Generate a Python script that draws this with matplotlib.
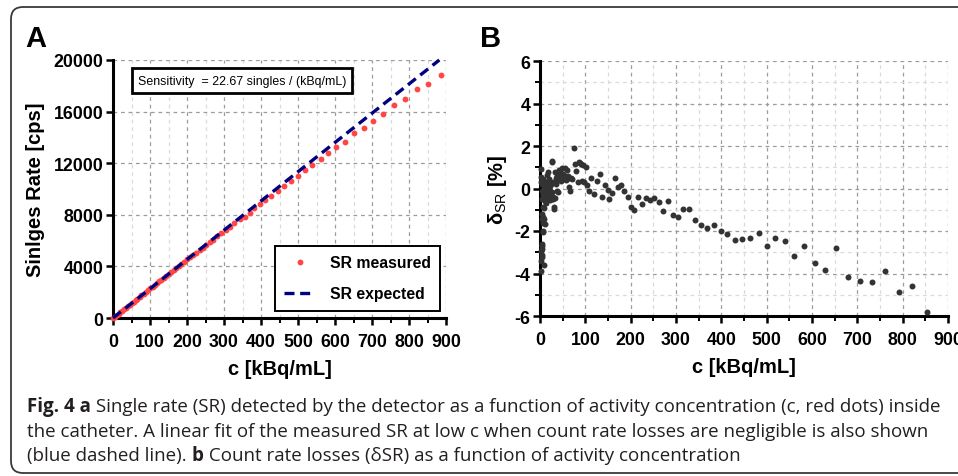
import numpy as np
import matplotlib
matplotlib.use("Agg")
import matplotlib.pyplot as plt
import matplotlib.font_manager as fm
from matplotlib.ticker import MultipleLocator
from matplotlib.patches import FancyBboxPatch
from matplotlib.transforms import IdentityTransform

# ---------------- data ----------------
# Panel A: singles rate measured vs. activity concentration
c_measured = [0, 5, 10, 15, 20, 25, 30, 35, 40, 45, 50, 56, 61, 66, 72, 77, 83, 89, 95,
              101, 107, 113, 119, 125, 131, 138, 144, 150, 157, 164, 171, 178, 185, 193,
              201, 208, 216, 224, 234, 242, 251, 261, 271, 282, 293, 305, 316, 328, 342,
              356, 369, 382, 398, 412, 428, 446, 463, 481, 500, 519, 539, 561, 582, 604,
              627, 652, 678, 703, 731, 760, 789, 821, 852, 886]
sr_measured = [0, 113, 227, 340, 455, 568, 682, 795, 908, 1022, 1136, 1272, 1385, 1499,
               1635, 1750, 1888, 2024, 2160, 2294, 2428, 2562, 2697, 2832, 2970, 3128,
               3264, 3398, 3555, 3712, 3878, 4040, 4192, 4372, 4538, 4694, 4878, 5060,
               5280, 5460, 5660, 5880, 6080, 6330, 6560, 6820, 7090, 7360, 7640, 7835,
               8170, 8505, 8840, 9124, 9459, 9820, 10232, 10619, 11005, 11469, 11881,
               12294, 12809, 13222, 13660, 14356, 14691, 15258, 15825, 16521, 17010,
               17732, 18170, 18814]
# expected (linear fit, 22.67 singles per kBq/mL)
c_expected = [0, 882]
sr_expected = [0, 20000]

# Panel B: count rate losses (%)
c_loss = [2.2, 3.0, 3.4, 3.0, 3.7, 4.2, 4.8, 5.1, 9.5, 6.5, 7.3, 6.2, 5.5, 4.4, 7.7, 10.3,
          9.2, 8.1, 5.9, 4.0, 3.5, 3.0, 2.6, 2.2, 5.0, 6.6, 7.0, 8.4, 8.8, 10.0, 11.0,
          11.8, 12.5, 13.2, 14.0, 14.7, 15.4, 16.2, 17.0, 17.6, 18.4, 19.1, 19.8, 20.6,
          21.3, 22.0, 22.8, 23.5, 24.2, 25.0, 25.7, 27.2, 26.4, 28.0, 28.7, 29.4, 30.2,
          30.9, 32.0, 33.1, 34.2, 35.3, 36.7, 37.8, 39.0, 40.4, 41.5, 42.8, 44.1, 45.5,
          46.8, 48.5, 49.8, 51.4, 52.8, 54.2, 55.8, 57.2, 58.7, 60.2, 61.8, 63.9, 66.1,
          68.0, 69.8, 74.2, 76.4, 79.3, 83.0, 85.2, 87.5, 89.6, 91.8, 95.5, 97.5, 100.7,
          102.9, 108.7, 112.4, 119.0, 125.6, 131.5, 135.9, 143.3, 149.1, 152.8, 159.4,
          165.3, 171.9, 178.5, 184.4, 193.2, 201.3, 207.2, 216.0, 224.8, 234.4, 242.5,
          251.3, 261.6, 271.8, 282.1, 293.2, 304.9, 315.9, 328.4, 342.4, 354.8, 368.8,
          382.8, 398.9, 412.9, 429.8, 445.9, 464.3, 482.0, 501.1, 519.4, 540.0, 560.6,
          583.3, 606.1, 628.9, 653.9, 678.9, 705.3, 733.2, 761.1, 791.3, 821.4, 853.7]
delta_sr = [-3.86, -3.4, -3.15, -2.95, -2.7, -2.6, -2.84, -3.2, -3.62, -2.04, -1.98, -1.6,
            -1.43, -1.2, -1.35, -1.65, -1.43, -0.9, -0.88, -0.5, -0.1, 0.3, 0.55, 0.91,
            0.2, -0.3, 0.45, 0.1, -0.45, 0.05, -0.57, -0.2, 0.3, -0.68, -0.1, 0.63, -0.35,
            -0.18, 0.2, -0.45, 0.76, 0.0, -0.3, 0.45, -0.1, -0.55, 0.1, -0.49, 0.2, -0.3,
            1.27, 1.3, -0.18, -0.5, 0.3, -0.4, -0.85, -0.96, -0.45, 0.76, 0.5, 0.2, 0.60,
            -0.1, 0.4, -0.15, 0.85, 0.5, 0.76, 0.6, 0.35, 0.95, 0.7, 0.45, 0.55, 0.95, 0.60,
            0.4, 0.85, 0.45, 0.6, 0.07, -0.10, 0.5, 0.45, 1.89, 1.17, 0.84, 0.32, 1.23, 1.2,
            1.15, 0.37, 1.09, 0.3, 1.02, 0.16, -0.10, 0.51, -0.27, 0.37, 0.70, -0.41, 0.18,
            -0.05, -0.51, -0.20, 0.49, 0.05, 0.18, -0.13, -0.41, -0.85, -0.99, -0.38, -0.73,
            -0.46, -0.56, -0.46, -0.62, -1.06, -0.57, -1.23, -1.35, -0.96, -0.96, -1.48,
            -1.74, -1.87, -1.70, -2.01, -2.12, -2.42, -2.39, -2.35, -2.09, -2.70, -2.32,
            -2.46, -3.18, -2.71, -3.50, -3.83, -2.78, -4.17, -4.33, -4.40, -3.90, -4.87,
            -4.61, -5.81]

x_ticks = [0, 100, 200, 300, 400, 500, 600, 700, 800, 900]
ya_ticks = [0, 4000, 8000, 12000, 16000, 20000]
yb_ticks = [-6, -4, -2, 0, 2, 4, 6]

caption_lines = [
    [("Fig. 4 a", "bold"),
     (" Single rate (SR) detected by the detector as a function of activity concentration (c, red dots) inside", "normal")],
    [("the catheter. A linear fit of the measured SR at low c when count rate losses are negligible is also shown", "normal")],
    [("(blue dashed line). ", "normal"), ("b", "bold"),
     (" Count rate losses (\u03b4SR) as a function of activity concentration", "normal")],
]

# ---------------- fonts ----------------
names = {f.name for f in fm.fontManager.ttflist}
SANS = "Liberation Sans"
NARROW = "Liberation Sans Narrow" if "Liberation Sans Narrow" in names else SANS
CAPF = "Open Sans" if "Open Sans" in names else SANS
plt.rcParams["font.family"] = [SANS, "DejaVu Sans"]
plt.rcParams["mathtext.fontset"] = "custom"
plt.rcParams["mathtext.rm"] = SANS
plt.rcParams["mathtext.it"] = SANS + ":italic"
plt.rcParams["mathtext.bf"] = SANS + ":bold"

W, H = 958, 477
fig = plt.figure(figsize=(W / 100, H / 100), dpi=100)

def px_axes(l, t, r, b):
    return fig.add_axes([l / W, 1 - b / H, (r - l) / W, (b - t) / H])

TICK_FS = 12.8
LABEL_FS = 14.5

def style(ax):
    for s in ("top", "right"):
        ax.spines[s].set_visible(False)
    for s in ("left", "bottom"):
        ax.spines[s].set_linewidth(2.2)
    ax.tick_params(which="major", direction="out", length=5, width=1.8, pad=2)
    ax.tick_params(axis="x", which="major", pad=6)
    ax.tick_params(which="minor", direction="out", length=3.5, width=1.4)
    ax.grid(True, which="major", color="#9c9c9c", linestyle=(0, (3, 3)), linewidth=0.9)
    ax.grid(True, which="minor", color="#dadada", linestyle=(0, (3, 3)), linewidth=0.9)
    ax.set_axisbelow(True)

# ---------------- panel A ----------------
axA = px_axes(113, 61, 446, 319)
style(axA)
axA.plot(c_measured, sr_measured, linestyle="none", marker="o", ms=4.2,
         color="#ff4545", mec="none", label="SR measured", zorder=3, clip_on=False)
axA.plot(c_expected, sr_expected, linestyle=(0, (3.0, 1.7)), lw=2.4, color="#000080",
         label="SR expected", zorder=4, clip_on=False)
axA.set_xlim(0, 900)
axA.set_ylim(0, 20000)
axA.set_xticks(x_ticks)
axA.set_xticklabels([str(v) for v in x_ticks], fontweight="bold", fontsize=TICK_FS)
axA.set_yticks(ya_ticks)
axA.set_yticklabels([str(v) for v in ya_ticks], fontweight="bold", fontsize=TICK_FS)
axA.xaxis.set_minor_locator(MultipleLocator(50))
axA.set_xlabel("c [kBq/mL]", fontweight="bold", fontsize=LABEL_FS, labelpad=6)
axA.set_ylabel("Sinlges Rate [cps]", fontweight="bold", fontsize=LABEL_FS, labelpad=6)
leg = axA.legend(loc="upper right", bbox_to_anchor=(0.982, 0.279), borderaxespad=0,
                 prop={"weight": "bold", "size": 11.3, "family": SANS}, frameon=True,
                 fancybox=False, edgecolor="black", framealpha=1, numpoints=1,
                 handlelength=2.0, labelspacing=1.0, borderpad=0.6, handletextpad=0.9)
leg.get_frame().set_linewidth(1.4)
axA.text(0.387, 0.9205, "Sensitivity  = 22.67 singles / (kBq/mL)",
         transform=axA.transAxes, ha="center", va="center",
         fontsize=10.5 if NARROW != SANS else 8.9, family=NARROW,
         bbox=dict(boxstyle="square,pad=0.5", fc="white", ec="black", lw=2.0), zorder=5)

# ---------------- panel B ----------------
axB = px_axes(540, 62, 948, 317)
style(axB)
axB.plot(c_loss, delta_sr, linestyle="none", marker="o", ms=4.3, color="#333333",
         mec="none", zorder=3, clip_on=False)
axB.set_xlim(0, 900)
axB.set_ylim(-6, 6)
axB.set_xticks(x_ticks)
axB.set_xticklabels([str(v) for v in x_ticks], fontweight="bold", fontsize=TICK_FS)
axB.set_yticks(yb_ticks)
axB.set_yticklabels([str(v) for v in yb_ticks], fontweight="bold", fontsize=TICK_FS)
axB.xaxis.set_minor_locator(MultipleLocator(50))
axB.yaxis.set_minor_locator(MultipleLocator(1))
axB.set_xlabel("c [kBq/mL]", fontweight="bold", fontsize=LABEL_FS, labelpad=6)
axB.set_ylabel("\u03b4$_{\\mathrm{SR}}$ [%]", fontweight="bold", fontsize=LABEL_FS, labelpad=4)

# panel letters
fig.text(25 / W, 1 - 25 / H, "A", fontsize=21, fontweight="bold", va="top", ha="left")
fig.text(480 / W, 1 - 25 / H, "B", fontsize=21, fontweight="bold", va="top", ha="left")

# outer rounded frame
frame = FancyBboxPatch((11, 3), 1000, 466, boxstyle="round,pad=0,rounding_size=12",
                       transform=IdentityTransform(), fill=False, ec="#3a3a3a", lw=1.3)
fig.patches.append(frame)

# ---------------- caption ----------------
renderer = fig.canvas.get_renderer()

def run_width(runs, size):
    total = 0.0
    for txt, wt in runs:
        t = fig.text(0, 0, txt, fontsize=size, fontweight=wt, family=CAPF)
        total += t.get_window_extent(renderer).width
        t.remove()
    return total

base = 10.0
target = 916.0
cap_fs = base * target / run_width(caption_lines[0], base)

line_y = [407, 432, 456]
for runs, ypx in zip(caption_lines, line_y):
    x = 27.0
    for txt, wt in runs:
        t = fig.text(x / W, 1 - ypx / H, txt, fontsize=cap_fs, fontweight=wt,
                     family=CAPF, va="center", ha="left", color="#231f20")
        x += t.get_window_extent(renderer).width

fig.savefig("out.png", dpi=100)
